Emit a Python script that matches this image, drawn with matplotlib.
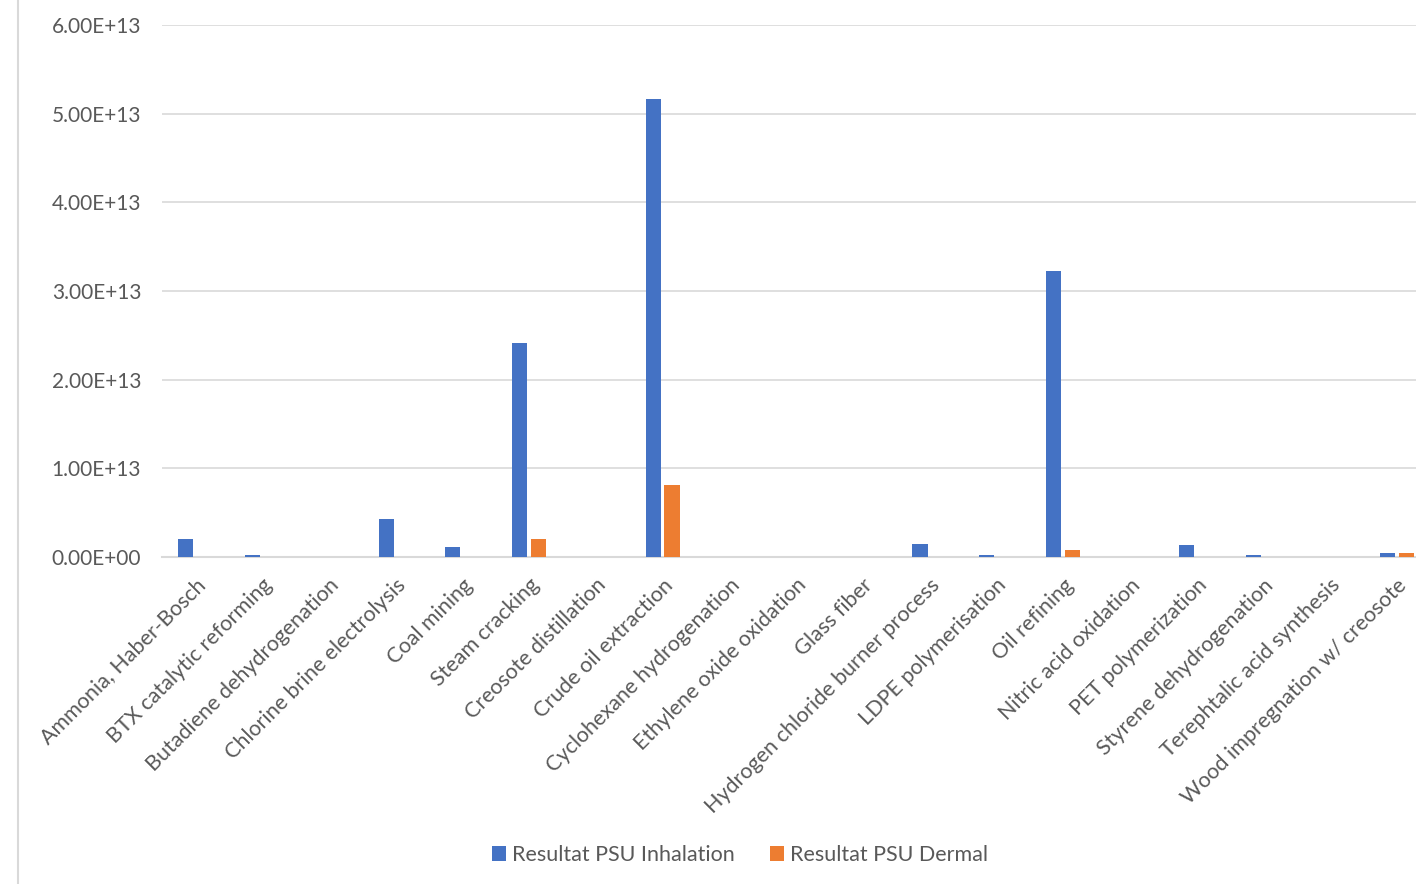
import numpy as np
import matplotlib.pyplot as plt
from matplotlib.lines import Line2D

categories = ['Ammonia, Haber-Bosch', 'BTX catalytic reforming', 'Butadiene dehydrogenation',
              'Chlorine brine electrolysis', 'Coal mining', 'Steam cracking', 'Creosote distillation',
              'Crude oil extraction', 'Cyclohexane hydrogenation', 'Ethylene oxide oxidation',
              'Glass fiber', 'Hydrogen chloride burner process', 'LDPE polymerisation', 'Oil refining',
              'Nitric acid oxidation', 'PET polymerization', 'Styrene dehydrogenation',
              'Terephtalic acid synthesis', 'Wood impregnation w/ creosote']
inhalation = [2.0e12, 0.2e12, 0, 4.3e12, 1.1e12, 2.41e13, 0, 5.17e13, 0, 0, 0,
              1.45e12, 0.2e12, 3.23e13, 0, 1.35e12, 0.2e12, 0, 0.45e12]
dermal = [0, 0, 0, 0, 0, 2.0e12, 0, 8.1e12, 0, 0, 0,
          0, 0, 0.8e12, 0, 0, 0, 0, 0.45e12]
yticks = [0, 1e13, 2e13, 3e13, 4e13, 5e13, 6e13]
ylabels = ['0.00E+00', '1.00E+13', '2.00E+13', '3.00E+13', '4.00E+13', '5.00E+13', '6.00E+13']

plt.rcParams['font.family'] = ['Lato', 'DejaVu Sans']
text_col = '#595959'
blue = '#4472c4'
orange = '#ed7d31'

fig = plt.figure(figsize=(14.16, 8.84), dpi=100)
ax = fig.add_axes([162/1416, 1 - 557/884, (1430 - 162)/1416, (557 - 25)/884])

x = np.arange(len(categories))
w = 0.225
ax.bar(x - 0.142, inhalation, w, color=blue, label='Resultat PSU Inhalation', zorder=3)
ax.bar(x + 0.142, dermal, w, color=orange, label='Resultat PSU Dermal', zorder=3)

ax.set_xlim(-0.5, len(categories) - 0.5)
ax.set_ylim(0, 6e13)
ax.set_yticks(yticks)
ax.set_yticklabels(ylabels, fontsize=15, color=text_col)
ax.set_xticks(x)
ax.set_xticklabels(categories, rotation=45, ha='right', rotation_mode='anchor',
                   fontsize=15.5, color=text_col)
ax.tick_params(axis='both', length=0)
ax.tick_params(axis='y', pad=15)
ax.tick_params(axis='x', pad=13)
ax.yaxis.grid(True, color='#d9d9d9', linewidth=1.2, zorder=0)
for s in ['top', 'right', 'left']:
    ax.spines[s].set_visible(False)
ax.spines['bottom'].set_color('#d9d9d9')
ax.spines['bottom'].set_linewidth(1.5)

fig.add_artist(Line2D([18/1416, 18/1416], [0, 1], color='#d9d9d9', linewidth=1.5))

fig.legend(loc='center', bbox_to_anchor=(740/1416, 1 - 855/884), ncol=2, frameon=False,
           fontsize=15.5, labelcolor=text_col, handlelength=0.65, handleheight=0.65,
           handletextpad=0.3, columnspacing=1.6)

fig.savefig('out.png', dpi=100)
